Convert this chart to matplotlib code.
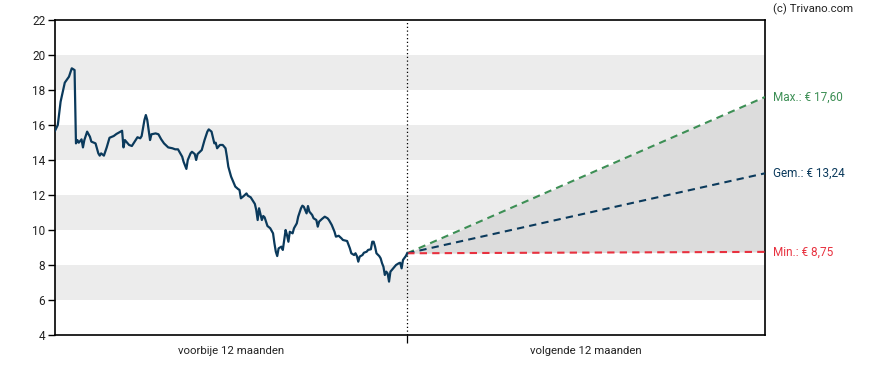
import matplotlib
matplotlib.use("Agg")
import matplotlib.pyplot as plt

plt.rcParams['font.family'] = ['Roboto', 'DejaVu Sans']

# trading days relative to today (0) and closing price (EUR)
days = [-252, -250, -248, -246, -245, -244, -242, -240, -238, -237, -236, -235, -233, -232,
        -231, -229, -227, -226, -223, -221, -220, -219, -217, -215, -213, -210, -208, -205,
        -204, -203, -202, -199, -197, -195, -193, -191, -190, -188, -187, -186, -184, -183,
        -180, -178, -176, -174, -171, -168, -166, -164, -161, -160, -158, -157, -155, -154,
        -152, -151, -150, -147, -145, -143, -142, -140, -138, -137, -136, -134, -132, -130,
        -129, -128, -126, -125, -123, -121, -120, -119, -117, -115, -114, -112, -110, -109,
        -108, -107, -106, -104, -103, -102, -100, -98, -96, -95, -94, -93, -92, -90, -89,
        -87, -86, -85, -84, -82, -81, -79, -78, -76, -75, -74, -72, -71, -70, -68, -67, -65,
        -64, -63, -61, -59, -57, -56, -54, -52, -51, -49, -47, -46, -43, -41, -40, -38, -37,
        -36, -35, -34, -32, -31, -29, -28, -26, -25, -24, -23, -22, -20, -19, -18, -17, -16,
        -15, -14, -13, -12, -10, -9, -8, -6, -5, -4, -3, -1, 0]
price = [15.67, 16.00, 17.33, 18.04, 18.42, 18.53, 18.76, 19.24, 19.14, 14.95, 15.14, 14.99,
         15.18, 14.72, 15.14, 15.62, 15.33, 15.05, 14.95, 14.38, 14.25, 14.38, 14.25, 14.72,
         15.27, 15.37, 15.49, 15.62, 15.67, 14.72, 15.14, 14.86, 14.80, 15.05, 15.30, 15.24,
         15.37, 16.29, 16.57, 16.29, 15.14, 15.47, 15.52, 15.47, 15.18, 14.95, 14.72, 14.67,
         14.61, 14.61, 14.19, 13.90, 13.49, 14.00, 14.38, 14.47, 14.34, 14.00, 14.34, 14.57,
         15.14, 15.62, 15.75, 15.62, 14.95, 14.99, 14.67, 14.86, 14.86, 14.67, 14.19, 13.62,
         13.05, 12.86, 12.48, 12.34, 12.29, 11.81, 11.94, 12.09, 11.96, 11.87, 11.62, 11.49,
         11.14, 10.57, 11.24, 10.57, 10.80, 10.72, 10.23, 10.10, 9.81, 9.24, 8.76, 8.51, 8.95,
         9.05, 8.86, 10.00, 9.71, 9.33, 9.90, 9.81, 10.10, 10.38, 10.76, 11.24, 11.39, 11.33,
         10.95, 11.37, 11.05, 10.86, 10.67, 10.57, 10.19, 10.48, 10.63, 10.76, 10.67, 10.57,
         10.29, 9.90, 9.62, 9.67, 9.52, 9.43, 9.37, 8.95, 8.67, 8.57, 8.67, 8.51, 8.19, 8.48,
         8.57, 8.70, 8.76, 8.86, 8.90, 9.33, 9.33, 9.05, 8.67, 8.51, 8.38, 8.10, 7.90, 7.43,
         7.62, 7.52, 7.05, 7.62, 7.81, 7.90, 8.00, 8.10, 8.13, 7.81, 8.29, 8.51, 8.67]

horizon = 256
fc_x = [0, horizon]
fc_start = 8.67
fc_max = 17.60
fc_avg = 13.24
fc_min = 8.75

yticks = [4, 6, 8, 10, 12, 14, 16, 18, 20, 22]
bands = [(6, 8), (10, 12), (14, 16), (18, 20)]
period_labels = ["voorbije 12 maanden", "volgende 12 maanden"]

navy = "#0b3a5c"
green = "#3d8f55"
red = "#e8313f"

fig = plt.figure(figsize=(8.88, 3.70), dpi=100)
ax = fig.add_axes([55/888, 1-335/370, 710/888, 315/370])

for lo, hi in bands:
    ax.axhspan(lo, hi, color="#ececec", lw=0, zorder=0)

ax.fill_between(fc_x, [fc_start, fc_min], [fc_start, fc_max], color="#dcdcdc", lw=0, zorder=1)
ax.plot(fc_x, [fc_start, fc_max], color=green, lw=1.5, ls=(0, (3.5, 2.5)), zorder=3)
ax.plot(fc_x, [fc_start, fc_avg], color=navy, lw=1.5, ls=(0, (3.5, 2.5)), zorder=3)
ax.plot(fc_x, [fc_start, fc_min], color=red, lw=1.5, ls=(0, (3.5, 2.5)), zorder=3)

ax.plot(days, price, color=navy, lw=1.6, zorder=4)
ax.axvline(0, color="black", lw=0.9, ls=(0, (1, 2)), zorder=2)

ax.set_xlim(-252, horizon)
ax.set_ylim(4, 22)
ax.set_yticks(yticks)
ax.set_yticklabels([str(t) for t in yticks])
ax.set_xticks([0])
ax.set_xticklabels([""])
ax.set_xticks([-126, horizon / 2], minor=True)
ax.set_xticklabels(period_labels, minor=True)
ax.tick_params(axis="x", which="minor", length=0, pad=8, labelsize=8.2, colors="#222222")
ax.tick_params(axis="x", which="major", length=6, width=0.9, direction="out")
ax.tick_params(axis="y", length=5, width=1, direction="out", labelsize=8.5, labelcolor="#222222", pad=2)
for s in ax.spines.values():
    s.set_linewidth(1.2)
    s.set_color("black")

ax.text(1.011, fc_max, "Max.: € 17,60", transform=ax.get_yaxis_transform(), color=green,
        fontsize=8.5, va="center", ha="left")
ax.text(1.011, fc_avg, "Gem.: € 13,24", transform=ax.get_yaxis_transform(), color=navy,
        fontsize=8.5, va="center", ha="left")
ax.text(1.011, fc_min, "Min.: € 8,75", transform=ax.get_yaxis_transform(), color=red,
        fontsize=8.5, va="center", ha="left")
fig.text(773/888, 1-9/370, "(c) Trivano.com", fontsize=8.2, color="#222222", ha="left", va="center")

fig.savefig("out.png", dpi=100)
